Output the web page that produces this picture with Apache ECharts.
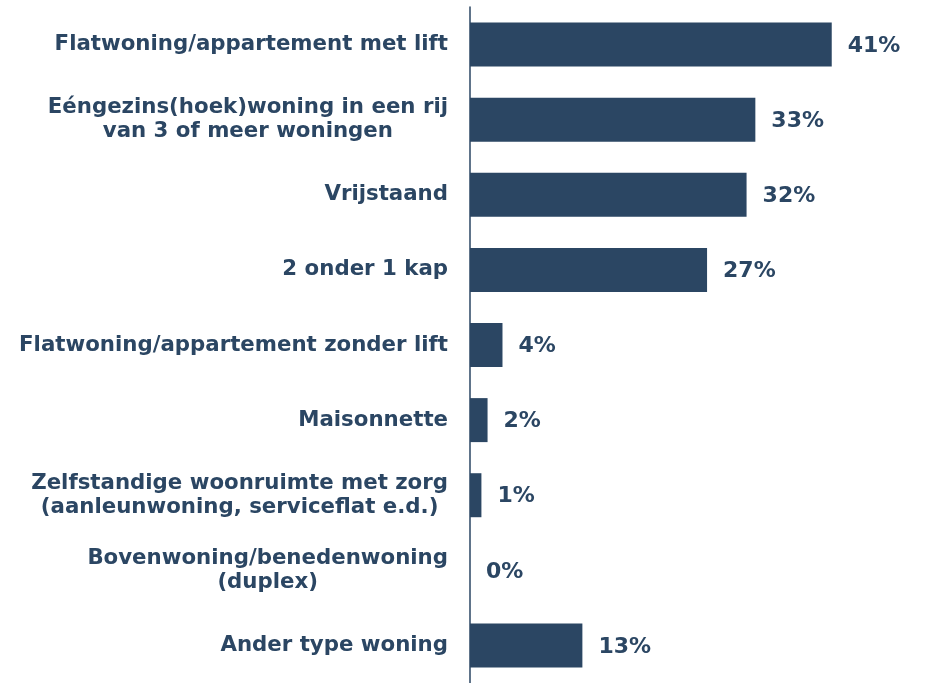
<!DOCTYPE html>
<html>
<head>
<meta charset="utf-8">
<title>Type woning</title>
<script src="https://cdn.jsdelivr.net/npm/echarts@6/dist/echarts.min.js"></script>
<style>
  html, body { margin: 0; padding: 0; background: #fff; }
  #main { width: 926px; height: 683px; }
</style>
</head>
<body>
<div id="main"></div>
<script>
// woningtypes (van boven naar beneden)
var categories = [
  "Flatwoning/appartement met lift",
  "Eéngezins(hoek)woning in een rij\nvan 3 of meer woningen",
  "Vrijstaand",
  "2 onder 1 kap",
  "Flatwoning/appartement zonder lift",
  "Maisonnette",
  "Zelfstandige woonruimte met zorg\n(aanleunwoning, serviceflat e.d.)",
  "Bovenwoning/benedenwoning\n(duplex)",
  "Ander type woning"
];
// percentages
var values = [41.2, 32.5, 31.5, 27.0, 3.7, 2.0, 1.3, 0, 12.8];

var kleur = "#2b4663";
var font = "Verdana, 'DejaVu Sans', sans-serif";

var myChart = echarts.init(document.getElementById("main"));

var option = {
  backgroundColor: "#ffffff",
  animation: false,
  grid: {
    left: 470,
    top: 7,
    width: 439,
    height: 680
  },
  xAxis: {
    type: "value",
    min: 0,
    max: 50,
    show: false
  },
  yAxis: {
    type: "category",
    inverse: true,
    data: categories,
    axisLine: {
      show: true,
      lineStyle: { color: kleur, width: 1.5 }
    },
    axisTick: { show: false },
    splitLine: { show: false },
    axisLabel: {
      margin: 22,
      align: "right",
      // elke regel gecentreerd binnen het label (zoals in het origineel)
      formatter: function (name) {
        return name.split("\n").map(function (l) {
          return "{c|" + l + "}";
        }).join("\n");
      },
      rich: {
        c: {
          align: "center",
          color: kleur,
          fontFamily: font,
          fontWeight: "bold",
          fontSize: 21.3,
          lineHeight: 23.5
        }
      }
    }
  },
  series: [
    {
      type: "bar",
      data: values,
      barWidth: 44,
      itemStyle: { color: kleur },
      label: {
        show: true,
        position: "right",
        distance: 16,
        offset: [0, 1.5],
        color: kleur,
        fontFamily: font,
        fontWeight: "bold",
        fontSize: 22,
        formatter: function (p) {
          return Math.round(p.value) + "%";
        }
      }
    }
  ]
};

myChart.setOption(option);
window.addEventListener("resize", function () {
  myChart.resize();
});
</script>
</body>
</html>
